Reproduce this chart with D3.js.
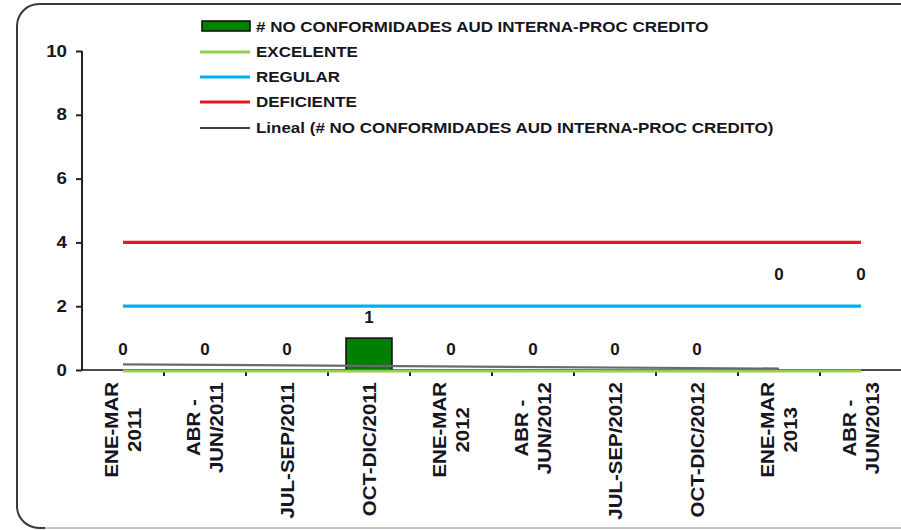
<!DOCTYPE html>
<html><head><meta charset="utf-8">
<script src="https://cdn.jsdelivr.net/npm/d3@7"></script>
<style>
html,body{margin:0;padding:0;background:#fff;}
svg{display:block;font-family:"Liberation Sans",Arial,sans-serif;}
</style></head>
<body>
<svg id="chart" width="901" height="530"></svg>
<script>
// ---- data ----
const categories = [
  ["ENE-MAR","2011"], ["ABR -","JUN/2011"], ["JUL-SEP/2011"], ["OCT-DIC/2011"],
  ["ENE-MAR","2012"], ["ABR -","JUN/2012"], ["JUL-SEP/2012"], ["OCT-DIC/2012"],
  ["ENE-MAR","2013"], ["ABR -","JUN/2013"]
];
const noConformidades = [0, 0, 0, 1, 0, 0, 0, 0, 0, 0];
const labelAnchor = [0, 0, 0, 1, 0, 0, 0, 0, 2.35, 2.35]; // value level where the data label sits
const reportedPeriods = 9;   // periods included in the linear trend
const excelente = 0, regular = 2, deficiente = 4;
const yTicks = [0, 2, 4, 6, 8, 10];
const seriesNames = ["# NO CONFORMIDADES AUD INTERNA-PROC CREDITO", "EXCELENTE", "REGULAR", "DEFICIENTE",
  "Lineal (# NO CONFORMIDADES AUD INTERNA-PROC CREDITO)"];
const colors = {bar:"#008000", excelente:"#92d050", regular:"#00b0f0", deficiente:"#e8161b", trend:"#000"};

const svg = d3.select("#chart");
const STRETCH = 1.17;
const txtColor = "#161622";

// frame
svg.append("rect").attr("x",17).attr("y",4).attr("width",940).attr("height",524).attr("rx",22)
  .attr("fill","#fff").attr("stroke","#383838").attr("stroke-width",2);
svg.append("line").attr("x1",45).attr("x2",901).attr("y1",528).attr("y2",528)
  .attr("stroke","#c9c9c9").attr("stroke-width",2.2);

const idx = categories.map((d,i)=>i);
const x = d3.scaleBand().domain(idx).range([82, 902]).paddingInner(0.44).paddingOuter(0.22);
const xc = i => x(i) + x.bandwidth()/2;
const y = d3.scaleLinear().domain([0,10]).range([370, 51]);

function stretch(sel, f){
  sel.each(function(){ const L=this.getComputedTextLength(); d3.select(this).attr("textLength", L*(f||STRETCH)).attr("lengthAdjust","spacingAndGlyphs"); });
}

// y axis
const yAxis = svg.append("g").attr("transform","translate(82,0)")
  .call(d3.axisLeft(y).tickValues(yTicks).tickSize(6).tickPadding(9).tickFormat(d3.format("d")));
yAxis.select(".domain").attr("stroke","#222").attr("stroke-width",2).attr("d","M0,"+y(10)+"V"+y(0));
yAxis.selectAll(".tick line").attr("stroke","#222").attr("stroke-width",2);
yAxis.selectAll(".tick text").attr("font-size",16).attr("font-weight","bold").attr("fill",txtColor)
  .attr("font-family","Liberation Sans, Arial, sans-serif").call(stretch);

// reference lines
const refLine = (v,c) => svg.append("line").attr("x1",xc(0)).attr("x2",xc(idx.length-1))
  .attr("y1",y(v)).attr("y2",y(v)).attr("stroke",c).attr("stroke-width",3.2);
refLine(deficiente, colors.deficiente);
refLine(regular, colors.regular);

// bars
svg.append("g").selectAll("rect").data(noConformidades.map((v,i)=>({v,i})).filter(d=>d.v>0)).join("rect")
  .attr("x",d=>x(d.i)).attr("width",x.bandwidth())
  .attr("y",d=>y(d.v)).attr("height",d=>y(0)-y(d.v))
  .attr("fill",colors.bar).attr("stroke","#111").attr("stroke-width",1.6);

// x axis
const xAxisG = svg.append("g").attr("transform","translate(0,"+y(0)+")");
xAxisG.append("line").attr("x1",82).attr("x2",902).attr("stroke","#111").attr("stroke-width",1.6);
const bounds = d3.range(1, idx.length+1).map(i => x.range()[0] + i*x.step());
xAxisG.selectAll(".tk").data(bounds).join("line").attr("class","tk")
  .attr("x1",d=>d).attr("x2",d=>d).attr("y1",0).attr("y2",6).attr("stroke","#222").attr("stroke-width",2);

// EXCELENTE line (drawn over axis)
svg.append("line").attr("x1",xc(0)).attr("x2",xc(idx.length-1))
  .attr("y1",y(excelente)+1).attr("y2",y(excelente)+1).attr("stroke",colors.excelente).attr("stroke-width",3.2);

// linear trend (least squares over reported periods)
const tx = d3.range(reportedPeriods), ty = noConformidades.slice(0, reportedPeriods);
const mx = d3.mean(tx), my = d3.mean(ty);
const slope = d3.sum(tx, (t,k)=>(t-mx)*(ty[k]-my)) / d3.sum(tx, t=>(t-mx)*(t-mx));
const icpt = my - slope*mx;
svg.append("line").attr("x1",xc(0)).attr("x2",xc(reportedPeriods-1))
  .attr("y1",y(icpt)).attr("y2",y(icpt+slope*(reportedPeriods-1)))
  .attr("stroke","#6a6a6a").attr("stroke-width",2.2);

// data labels
svg.append("g").selectAll("text").data(noConformidades).join("text")
  .attr("x",(d,i)=>xc(i)).attr("y",(d,i)=>y(labelAnchor[i]) - 15)
  .attr("text-anchor","middle").attr("font-size",17).attr("font-weight","bold").attr("fill",txtColor)
  .text(d=>d);

// x labels (rotated)
const xl = svg.append("g");
categories.forEach((lines, i) => {
  const g = xl.append("g").attr("transform","translate("+xc(i)+",0) rotate(-90)");
  const texts = lines.map((t, k) => g.append("text").attr("font-size",17.5).attr("font-weight","bold")
     .attr("fill",txtColor).attr("text-anchor","middle").text(t));
  let maxL = 0;
  texts.forEach(tsel => { const L = tsel.node().getComputedTextLength()*STRETCH; maxL = Math.max(maxL, L);
     tsel.attr("textLength", L).attr("lengthAdjust","spacingAndGlyphs"); });
  const n = lines.length;
  texts.forEach((tsel, k) => {
    const off = (k - (n-1)/2) * 23;
    tsel.attr("x", -(382 + maxL/2)).attr("y", off + 6.5);
  });
});

// legend
const lg = svg.append("g");
const rowY = [26, 51, 76, 101, 127];
seriesNames.forEach((name, k) => {
  const cy = rowY[k];
  if (k === 0) {
    lg.append("rect").attr("x",202).attr("y",cy-5).attr("width",48).attr("height",10)
      .attr("fill",colors.bar).attr("stroke","#111").attr("stroke-width",1.6);
  } else {
    const c = [null, colors.excelente, colors.regular, colors.deficiente, colors.trend][k];
    lg.append("line").attr("x1",200).attr("x2",250).attr("y1",cy+1).attr("y2",cy+1)
      .attr("stroke",c).attr("stroke-width", k===4 ? 1.5 : 3.2);
  }
  lg.append("text").attr("x",256).attr("y",cy+5.5).attr("font-size",14.5).attr("font-weight","bold")
    .attr("fill",txtColor).text(name).call(stretch);
});
</script>
</body></html>
